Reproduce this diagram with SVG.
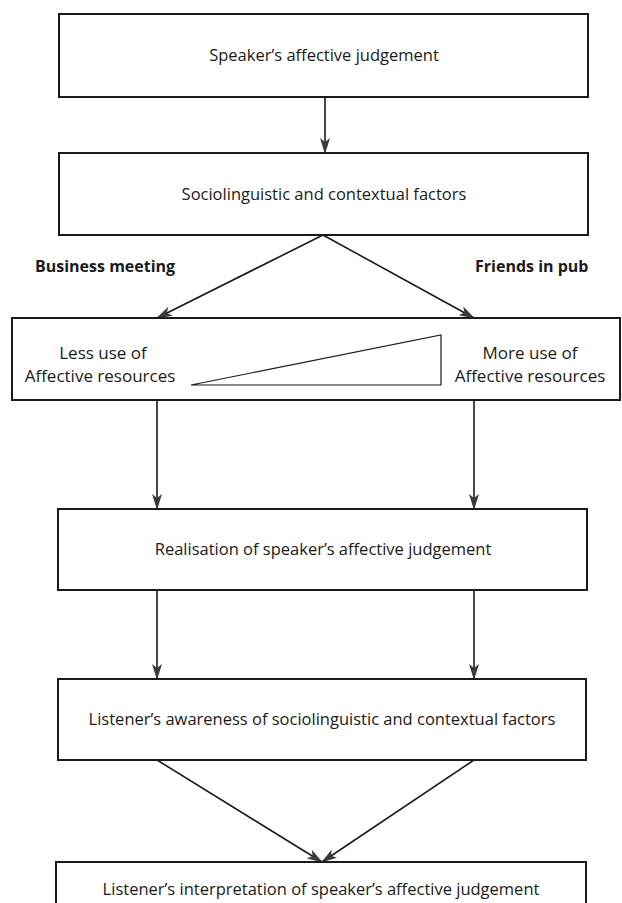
<svg xmlns="http://www.w3.org/2000/svg" width="622" height="903" viewBox="0 0 622 903">
<style>
  .box { fill: #fff; stroke: #1a1a1a; stroke-width: 2; }
  .t { font-family: "Open Sans", "Liberation Sans", sans-serif; font-size: 16.5px; fill: #1a1a1a; text-anchor: middle; }
  .t3 { font-family: "Open Sans", "Liberation Sans", sans-serif; font-size: 17px; fill: #1a1a1a; text-anchor: middle; }
  .b { font-family: "Open Sans", "Liberation Sans", sans-serif; font-size: 16px; font-weight: bold; fill: #1a1a1a; }
  .c { stroke: #1a1a1a; stroke-width: 1.6; fill: none; marker-end: url(#ah); }
  .tri { fill: #fff; stroke: #1a1a1a; stroke-width: 1.2; }
</style>
<defs>
  <marker id="ah" markerWidth="16" markerHeight="10" refX="15" refY="5" orient="auto" markerUnits="userSpaceOnUse">
    <path d="M0,0 L16,5 L0,10 L4,5 z" fill="#3a3a3a"/>
  </marker>
</defs>
<rect width="622" height="903" fill="#fff"/>
<g id="connectors">
  <line class="c" x1="325" y1="97" x2="325" y2="153"/>
  <line class="c" x1="323" y1="235" x2="157" y2="318"/>
  <line class="c" x1="323" y1="235" x2="474" y2="318"/>
  <line class="c" x1="157" y1="400" x2="157" y2="509"/>
  <line class="c" x1="474" y1="400" x2="474" y2="509"/>
  <line class="c" x1="157" y1="590" x2="157" y2="679"/>
  <line class="c" x1="474" y1="590" x2="474" y2="679"/>
  <line class="c" x1="157" y1="760" x2="322" y2="862"/>
  <line class="c" x1="474" y1="760" x2="322" y2="862"/>
</g>
<g id="n1">
  <rect class="box" x="59" y="14" width="529" height="83"/>
  <text class="t" x="324" y="61">Speaker’s affective judgement</text>
</g>
<g id="n2">
  <rect class="box" x="59" y="153" width="529" height="82"/>
  <text class="t" x="324" y="200">Sociolinguistic and contextual factors</text>
</g>
<g id="labels">
  <text class="b" x="35" y="272">Business meeting</text>
  <text class="b" x="475" y="272">Friends in pub</text>
</g>
<g id="n3">
  <rect class="box" x="12" y="318" width="608" height="82"/>
  <polygon class="tri" points="191,385 441,335 441,385"/>
  <text class="t3" x="103" y="359">Less use of</text>
  <text class="t3" x="100" y="382">Affective resources</text>
  <text class="t3" x="530" y="359">More use of</text>
  <text class="t3" x="530" y="382">Affective resources</text>
</g>
<g id="n4">
  <rect class="box" x="58" y="509" width="529" height="81"/>
  <text class="t" x="323" y="555">Realisation of speaker’s affective judgement</text>
</g>
<g id="n5">
  <rect class="box" x="58" y="679" width="528" height="81"/>
  <text class="t" x="322" y="725">Listener’s awareness of sociolinguistic and contextual factors</text>
</g>
<g id="n6">
  <rect class="box" x="56" y="862" width="530" height="60"/>
  <text class="t" x="321" y="895">Listener’s interpretation of speaker’s affective judgement</text>
</g>
</svg>
